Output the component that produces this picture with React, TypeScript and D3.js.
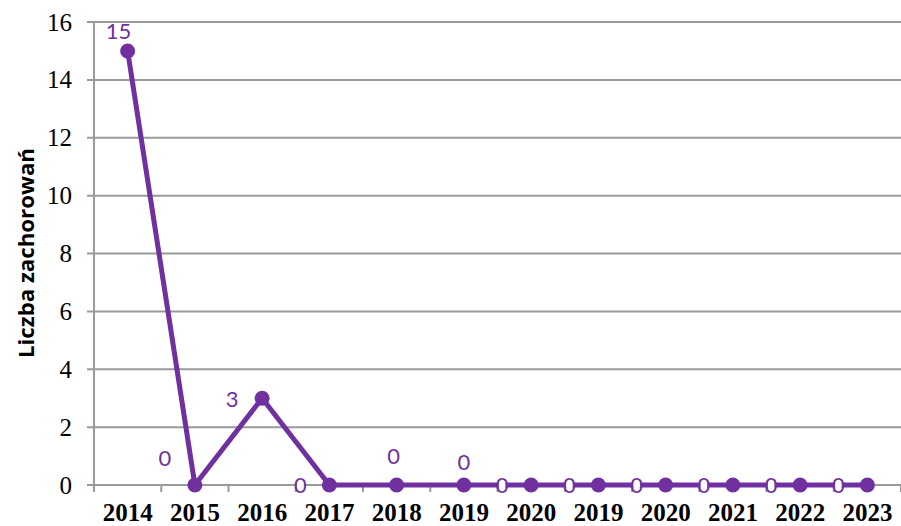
import React from "react";
import * as d3 from "d3";

const categories = ["2014", "2015", "2016", "2017", "2018", "2019", "2020", "2019", "2020", "2021", "2022", "2023"];
const values = [15, 0, 3, 0, 0, 0, 0, 0, 0, 0, 0, 0];
const yTicks = [0, 2, 4, 6, 8, 10, 12, 14, 16];
const yTitle = "Liczba zachorowań";
// label placement relative to the point (manual Excel label positions)
const labelOffsets: [number, number][] = [
  [-9, -20], [-30, -27], [-30, 1], [-29, 0], [-3, -29], [0, -23],
  [-29, 0], [-29, 0], [-29, 0], [-29, 0], [-29, 0], [-29, 0],
];

const W = 901;
const H = 526;
const left = 94;
const right = 901;
const top = 22;
const bottom = 485;
const purple = "#7030A0";
const grid = "#9a9a9a";

export default function App() {
  const idx = categories.map((_, i) => i);
  const x = d3.scaleBand<number>().domain(idx).range([left, right]).padding(0);
  const y = d3.scaleLinear().domain([0, 16]).range([bottom, top]);
  const cx = (i: number) => (x(i) as number) + x.bandwidth() / 2;
  const line = d3
    .line<number>()
    .x((_, i) => cx(i))
    .y((d) => y(d));
  const boundaries = idx.map((i) => x(i) as number).concat([right]);

  return (
    <svg width={W} height={H} style={{ position: "absolute", left: 0, top: 0, background: "#fff" }}>
      {/* gridlines */}
      {yTicks.map((t) => (
        <line key={"g" + t} x1={left - 7} x2={right} y1={y(t)} y2={y(t)} stroke={grid} strokeWidth={2} />
      ))}
      {/* y axis */}
      <line x1={left} x2={left} y1={top} y2={bottom + 7} stroke={grid} strokeWidth={2} />
      {/* x ticks */}
      {boundaries.map((b, i) => (
        <line key={"xt" + i} x1={b} x2={b} y1={bottom} y2={bottom + 7} stroke={grid} strokeWidth={2} />
      ))}
      {/* y tick labels */}
      {yTicks.map((t) => (
        <text
          key={"yl" + t}
          x={72}
          y={y(t)}
          dy="0.34em"
          textAnchor="end"
          fontFamily="'Liberation Serif', 'Times New Roman', serif"
          fontSize={25}
          fill="#000"
        >
          {t}
        </text>
      ))}
      {/* x labels */}
      {categories.map((c, i) => (
        <text
          key={"xl" + i}
          x={cx(i)}
          y={521}
          textAnchor="middle"
          fontFamily="'Liberation Serif', 'Times New Roman', serif"
          fontWeight="bold"
          fontSize={25}
          fill="#000"
        >
          {c}
        </text>
      ))}
      {/* y title */}
      <text
        transform={`translate(34, 253) rotate(-90)`}
        textAnchor="middle"
        fontFamily="'Open Sans', 'Noto Sans', sans-serif"
        fontWeight="bold"
        fontSize={22}
        textLength={210}
        lengthAdjust="spacingAndGlyphs"
        fill="#000"
      >
        {yTitle}
      </text>
      {/* series line */}
      <path d={line(values) || ""} fill="none" stroke={purple} strokeWidth={5} strokeLinejoin="round" />
      {values.map((v, i) => (
        <circle key={"p" + i} cx={cx(i)} cy={y(v)} r={7.5} fill={purple} />
      ))}
      {/* data labels */}
      {values.map((v, i) => {
        const lx = cx(i) + labelOffsets[i][0];
        const ly = y(v) + labelOffsets[i][1];
        return (
          <g key={"dl" + i}>
            <ellipse cx={lx} cy={ly} rx={String(v).length * 3.5} ry={5.5} fill="#fff" />
            <text
              x={lx}
              y={ly}
              dy="0.36em"
              textAnchor="middle"
              fontFamily="Lato, 'Open Sans', sans-serif"
              fontSize={22}
              fill={purple}
            >
              {v}
            </text>
          </g>
        );
      })}
    </svg>
  );
}
